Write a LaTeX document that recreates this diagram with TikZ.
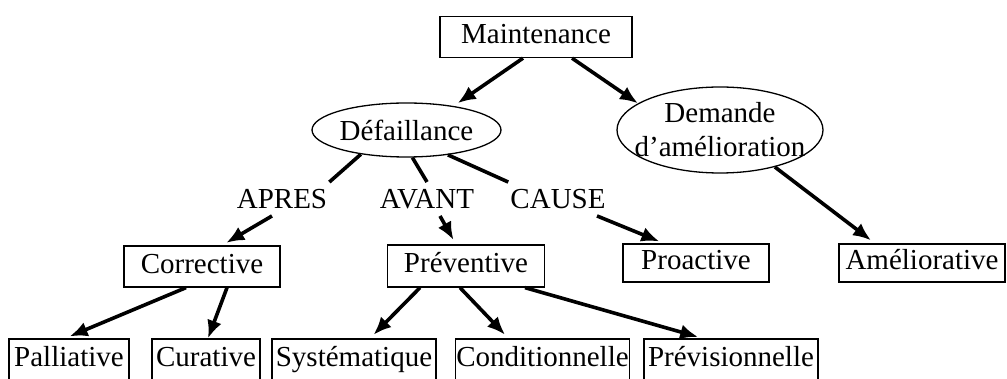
\documentclass[tikz,border=0pt]{standalone}
\usepackage{fontspec}
\setmainfont{Liberation Serif}
\usetikzlibrary{positioning}
\usetikzlibrary{shapes.geometric}
\usetikzlibrary{arrows.meta}

\begin{document}
\begin{tikzpicture}
  [
    x    = 1pt,
    y    = 1pt,
    font = \fontsize{29}{34}\selectfont,
    arr/.style  = {line width=3.6pt, -{Latex[length=18pt,width=15pt]}, shorten >=5pt},
    link/.style = {line width=3.6pt}
  ]
  \useasboundingbox (0,0) rectangle (1007,-379);
  \begin{scope}[bloc/.style={rectangle,draw,line width=1.3pt,minimum height=41pt,
                  text height=20pt,text depth=6pt,inner sep=0pt},
                evt/.style={ellipse,draw,line width=1.3pt,inner sep=0pt,align=center},
                lbl/.style={inner xsep=2pt,inner ysep=7pt},
                on grid]
  \node [bloc,minimum width=192pt] (mel) at (536,-37) {Maintenance};
  \node [evt,minimum width=185pt,minimum height=54pt] (def) [below left=93pt and 129.5pt of mel] {Défaillance};
  \node [evt,minimum width=206pt,minimum height=86pt] (dem) [below right=93pt and 184pt of mel]
        {\makebox[140pt]{Demande}\\\makebox[140pt]{d’amélioration}};
  % types d'intervention
  \node [lbl] (apres) [below left=69pt and 124.5pt of def] {APRES};
  \node [lbl] (avant) [below right=69pt and 20.5pt of def] {AVANT};
  \node [lbl] (cause) [below right=69pt and 151.5pt of def] {CAUSE};
  \node [bloc,minimum width=156pt] (corr) [below left=67.5pt and 80pt of apres] {Corrective};
  \node [bloc,minimum width=157pt,minimum height=42pt] (prev) [below right=67pt and 39pt of avant] {Préventive};
  \node [bloc,minimum width=146pt,minimum height=38pt] (proact) [below right=64pt and 138pt of cause] {Proactive};
  \node [bloc,minimum width=166pt,minimum height=38pt] (amel) [below right=133pt and 202pt of dem] {Améliorative};
  % derniere rangee
  \node [bloc,minimum width=120pt] (pall) [below left=93pt and 133pt of corr] {Palliative};
  \node [bloc,minimum width=108pt] (cur) [below right=93pt and 4pt of corr] {Curative};
  \node [bloc,minimum width=164pt] (sys) [below left=93.5pt and 112pt of prev] {Systématique};
  \node [bloc,minimum width=174pt] (cond) [below right=93.5pt and 76.5pt of prev] {Conditionnelle};
  \node [bloc,minimum width=174pt] (previs) [below right=93.5pt and 265pt of prev] {Prévisionnelle};

  \draw[arr] ([xshift=-13pt]mel.south) -- (def.27);
  \draw[arr,shorten >=0pt] ([xshift=36pt]mel.south) -- (dem.162);
  \draw[link] (def.208) -- (apres.north east);
  \draw[link] (def.282) -- (avant.north);
  \draw[link] (def.329) -- (cause.north west);
  \draw[arr] ([xshift=-10pt]apres.south) -- ([xshift=20pt]corr.north);
  \draw[arr] ([xshift=13pt]avant.south) -- ([xshift=-10pt]prev.north);
  \draw[arr] ([xshift=39pt]cause.south) -- ([xshift=-32pt]proact.north);
  \draw[arr] (dem.326) -- ([xshift=-47pt]amel.north);
  \draw[arr] ([xshift=-16pt]corr.south) -- ([xshift=-4pt]pall.north);
  \draw[arr,shorten >=0pt] ([xshift=25pt]corr.south) -- ([xshift=2pt]cur.north);
  \draw[arr] ([xshift=-46pt]prev.south) -- ([xshift=16pt]sys.north);
  \draw[arr] ([xshift=-6pt]prev.south) -- ([xshift=-34pt]cond.north);
  \draw[arr] ([xshift=59pt]prev.south) -- ([xshift=-28pt]previs.north);
  \end{scope}
\end{tikzpicture}
\end{document}
